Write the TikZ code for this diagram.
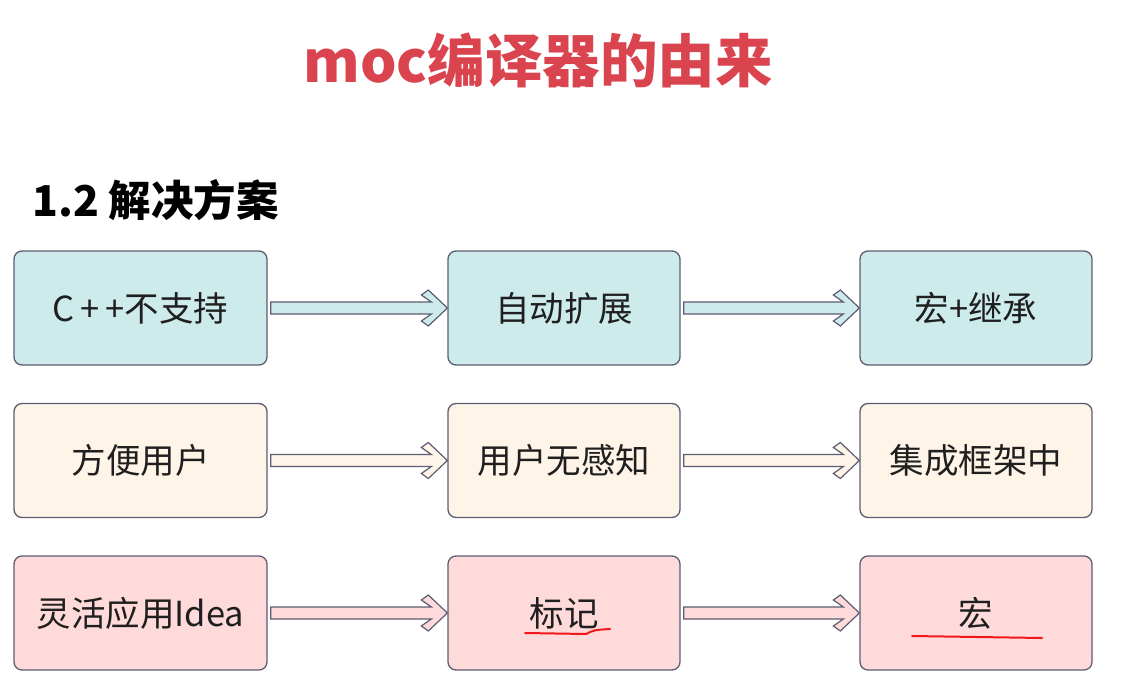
\documentclass[tikz,border=0pt]{standalone}
\usepackage{fontspec}
\setmainfont{Noto Sans CJK SC}[BoldFont={Noto Sans CJK SC Black}]
\usetikzlibrary{positioning, calc}

\definecolor{titlered}{HTML}{D9444F}
\definecolor{edgegray}{HTML}{5C5C72}
\definecolor{rowcyan}{HTML}{CDEBEB}
\definecolor{rowcream}{HTML}{FFF4E8}
\definecolor{rowpink}{HTML}{FFDADA}
\definecolor{penred}{HTML}{F01818}

% hollow block arrow from one box to the next
\newcommand{\flowarrow}[3]{%
  \draw[arrowline, fill=#3]
    ($(#1.east)+(3,-6)$) -- ($(#2.west)+(-16,-6)$) -- ++(-10,-7) -- ++(7,-5)
    -- (#2.west) -- ++(-19,18) -- ++(-7,-5) -- ++(10,-7)
    -- ($(#1.east)+(3,6)$) -- cycle;
}

\begin{document}
\begin{tikzpicture}[
    x=1pt, y=-1pt,
    node distance=152.5pt and 412pt,
    on grid,
    box/.style={draw=edgegray, line width=1.3pt, rounded corners=8pt, minimum width=232pt,
                minimum height=114pt, inner sep=0pt, text=black!88,
                font=\fontsize{34.5}{40}\selectfont},
    widebox/.style={box, minimum width=253pt},
    arrowline/.style={draw=edgegray, line width=1.2pt, line join=miter},
    redmark/.style={draw=penred, line width=2pt, line cap=round}
]
\useasboundingbox (0,0) rectangle (1132,682);

% -------------------------
% HEADINGS
% -------------------------
\node[font=\fontsize{57.5}{64}\selectfont\bfseries, text=titlered] (title) at (538,60) {moc编译器的由来};
\node[font=\fontsize{42.5}{48}\selectfont\bfseries, anchor=west, inner sep=0pt] (sub) at (32,200) {1.2 解决方案};

% -------------------------
% BOXES
% -------------------------
\node[widebox, fill=rowcyan] (nocpp) at (140.5,308) {C\,+\,+不支持};
\node[box, fill=rowcyan] (autoext) [right=of nocpp, xshift=11.5pt] {自动扩展};
\node[box, fill=rowcyan] (macinh) [right=of autoext] {宏+继承};

\node[widebox, fill=rowcream] (easy) [below=of nocpp] {方便用户};
\node[box, fill=rowcream] (unaware) [below=of autoext] {用户无感知};
\node[box, fill=rowcream] (inframe) [below=of macinh] {集成框架中};

\node[widebox, fill=rowpink] (idea) [below=of easy] {灵活应用Idea};
\node[box, fill=rowpink] (mark) [below=of unaware] {标记};
\node[box, fill=rowpink] (macro) [below=of inframe] {宏};

% -------------------------
% ARROWS
% -------------------------
\flowarrow{nocpp}{autoext}{rowcyan}
\flowarrow{autoext}{macinh}{rowcyan}
\flowarrow{easy}{unaware}{rowcream}
\flowarrow{unaware}{inframe}{rowcream}
\flowarrow{idea}{mark}{rowpink}
\flowarrow{mark}{macro}{rowpink}

% red pen strokes under the last row
\draw[redmark] ($(mark.center)+(-39,20)$) -- ($(mark.center)+(22,21)$)
  .. controls ($(mark.center)+(30,17)$) .. ($(mark.center)+(46,16)$);
\draw[redmark] ($(macro.center)+(-64,23)$) -- ($(macro.center)+(66,25)$);

\end{tikzpicture}
\end{document}
